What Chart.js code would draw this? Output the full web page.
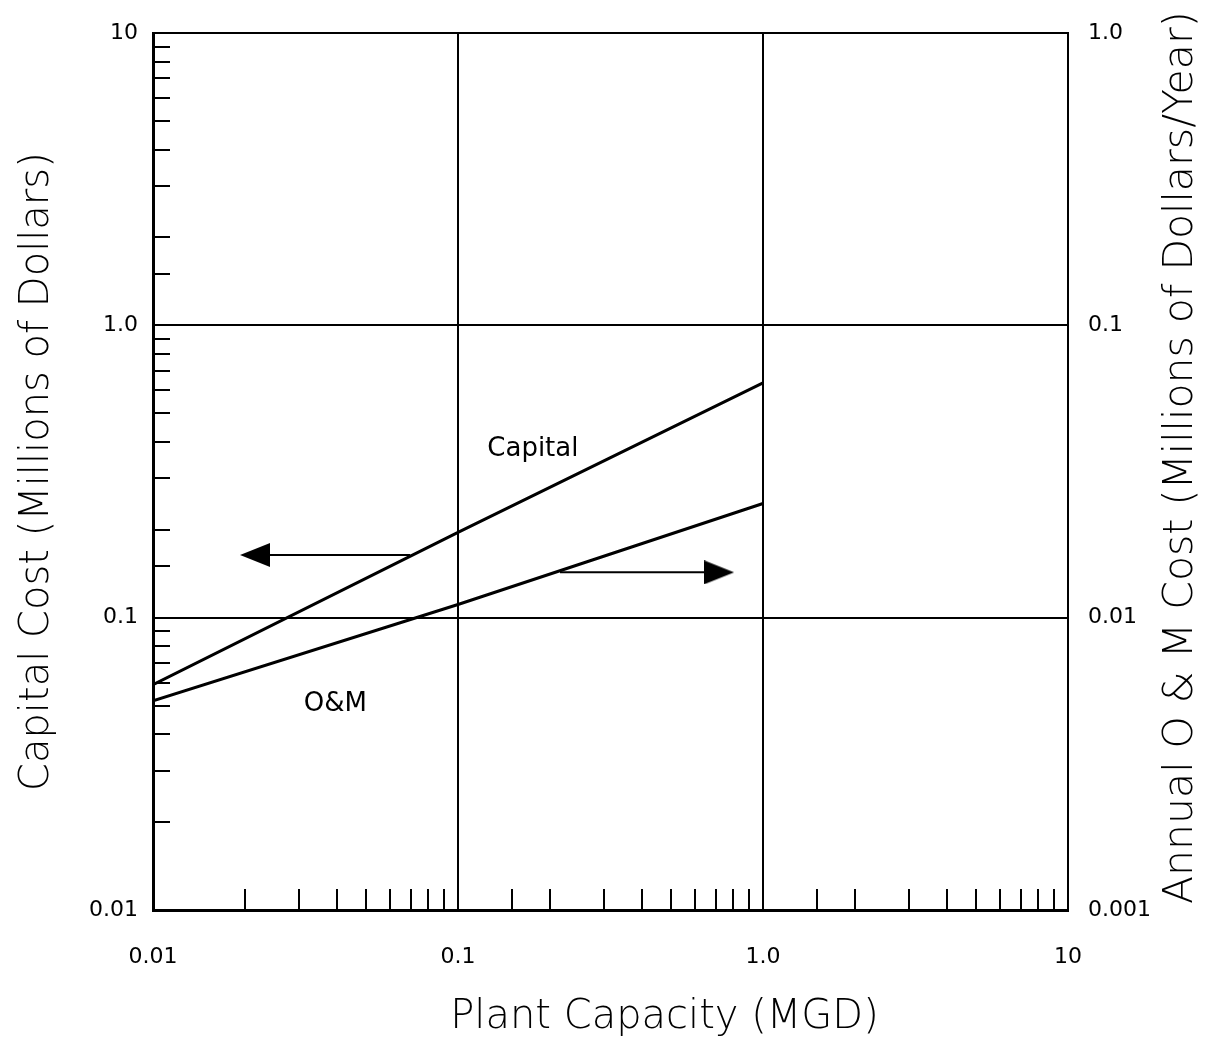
<!DOCTYPE html>
<html>
<head>
<meta charset="utf-8">
<script src="https://cdn.jsdelivr.net/npm/chart.js@4/dist/chart.umd.min.js"></script>
<style>
  html, body { margin: 0; padding: 0; background: #ffffff; }
  #wrap { width: 1205px; height: 1043px; position: relative; }
</style>
</head>
<body>
<div id="wrap"><canvas id="c" width="1205" height="1043"></canvas></div>
<script>
// ---- data ----
const capacityMGD   = [0.01, 0.1, 1.0];          // Plant capacity, MGD
const capitalCost   = [0.059, 0.196, 0.636];     // Capital cost, millions of dollars (left axis)
const omCost        = [0.0052, 0.0111, 0.0246];  // Annual O&M cost, millions of dollars/year (right axis)
const seriesLabels  = ['Capital', 'O&M'];

const xTickValues     = [0.01, 0.1, 1, 10];
const xTickLabels     = ['0.01', '0.1', '1.0', '10'];
const leftTickValues  = [0.01, 0.1, 1, 10];
const leftTickLabels  = ['0.01', '0.1', '1.0', '10'];
const rightTickValues = [0.001, 0.01, 0.1, 1];
const rightTickLabels = ['0.001', '0.01', '0.1', '1.0'];

const xTitle     = 'Plant Capacity (MGD)';
const leftTitle  = 'Capital Cost (Millions of Dollars)';
const rightTitle = 'Annual O & M Cost (Millions of Dollars/Year)';

const capitalArrowX = [0.0697, 0.0216];   // from Capital curve toward left axis
const capitalArrowY = [0.164, 0.164];     // left-axis units
const omArrowX      = [0.216, 0.718];     // from O&M curve toward right axis
const omArrowY      = [0.0143, 0.0143];   // right-axis units
const capitalLabelAt = [0.176, 0.376];    // x, left-axis y
const omLabelAt      = [0.0396, 0.0504];  // x, left-axis y

// ---- helpers ----
const FONT = "'DejaVu Sans', 'Liberation Sans', sans-serif";
function isDecade(v) { const l = Math.log10(v); return Math.abs(l - Math.round(l)) < 1e-6; }
function labelFor(v, vals, labs) {
  for (let i = 0; i < vals.length; i++) if (Math.abs(Math.log10(v) - Math.log10(vals[i])) < 1e-6) return labs[i];
  return '';
}
function makeHead(dir) {
  const c = document.createElement('canvas');
  c.width = 30; c.height = 24;
  const g = c.getContext('2d');
  g.fillStyle = '#000';
  g.beginPath();
  if (dir === 'left') { g.moveTo(0, 12); g.lineTo(30, 0); g.lineTo(30, 24); }
  else { g.moveTo(30, 12); g.lineTo(0, 0); g.lineTo(0, 24); }
  g.closePath(); g.fill();
  return c;
}
const headLeft = makeHead('left');
const headRight = makeHead('right');

Chart.defaults.font.family = FONT;
Chart.defaults.color = '#000';

const decor = {
  id: 'decor',
  afterDatasetsDraw(chart) {
    const ctx = chart.ctx, a = chart.chartArea;
    const xs = chart.scales.x, ys = chart.scales.y, y2 = chart.scales.y2;
    ctx.save();
    ctx.strokeStyle = '#000';
    ctx.lineWidth = 2;
    ctx.beginPath();
    xs.ticks.forEach(t => {
      if (isDecade(t.value)) return;
      const px = Math.round(xs.getPixelForValue(t.value));
      ctx.moveTo(px, a.bottom); ctx.lineTo(px, a.bottom - 21);
    });
    ys.ticks.forEach(t => {
      if (isDecade(t.value)) return;
      const py = Math.round(ys.getPixelForValue(t.value));
      ctx.moveTo(a.left, py); ctx.lineTo(a.left + 17, py);
    });
    ctx.stroke();
    // curve labels
    ctx.fillStyle = '#000';
    ctx.font = '26px ' + FONT;
    ctx.textAlign = 'center';
    ctx.textBaseline = 'middle';
    ctx.fillText(seriesLabels[0], xs.getPixelForValue(capitalLabelAt[0]), ys.getPixelForValue(capitalLabelAt[1]));
    ctx.fillText(seriesLabels[1], xs.getPixelForValue(omLabelAt[0]), ys.getPixelForValue(omLabelAt[1]));
    // axis titles
    ctx.font = '300 40px ' + FONT;
    ctx.fillText(xTitle, (a.left + a.right) / 2 + 54, xs.bottom - 25);
    ctx.save();
    ctx.translate(y2.right - 24, (a.top + a.bottom) / 2 - 14);
    ctx.rotate(-Math.PI / 2);
    ctx.font = '300 41px ' + FONT;
    ctx.fillText(rightTitle, 0, 0);
    ctx.restore();
    ctx.restore();
  }
};

const pts = (xa, ya) => xa.map((x, i) => ({ x: x, y: ya[i] }));

new Chart(document.getElementById('c'), {
  type: 'scatter',
  data: {
    datasets: [
      { label: seriesLabels[0], data: pts(capacityMGD, capitalCost), yAxisID: 'y',
        showLine: true, borderColor: '#000', borderWidth: 3, pointRadius: 0, tension: 0 },
      { label: seriesLabels[1], data: pts(capacityMGD, omCost), yAxisID: 'y2',
        showLine: true, borderColor: '#000', borderWidth: 3, pointRadius: 0, tension: 0 },
      { label: 'capital-arrow', data: pts(capitalArrowX, capitalArrowY), yAxisID: 'y',
        showLine: true, borderColor: '#000', borderWidth: 2,
        pointRadius: [0, 14], pointStyle: ['circle', headLeft], pointBackgroundColor: '#000', pointBorderWidth: 0 },
      { label: 'om-arrow', data: pts(omArrowX, omArrowY), yAxisID: 'y2',
        showLine: true, borderColor: '#000', borderWidth: 2,
        pointRadius: [0, 14], pointStyle: ['circle', headRight], pointBackgroundColor: '#000', pointBorderWidth: 0 }
    ]
  },
  options: {
    responsive: false,
    animation: false,
    events: [],
    layout: { padding: { top: 30, left: 0, right: 0, bottom: 0 } },
    plugins: { legend: { display: false }, tooltip: { enabled: false } },
    scales: {
      x: {
        type: 'logarithmic', position: 'bottom', min: 0.01, max: 10,
        afterFit(s) { s.height = 133; },
        border: { display: true, color: '#000', width: 3 },
        grid: { drawTicks: false, lineWidth: 2,
                color: c => (c.tick && isDecade(c.tick.value)) ? '#000' : 'rgba(0,0,0,0)' },
        ticks: { autoSkip: false, maxRotation: 0, minRotation: 0, padding: 34, color: '#000',
                 font: { size: 22 }, callback: v => labelFor(v, xTickValues, xTickLabels) },
        title: { display: false, text: xTitle }
      },
      y: {
        type: 'logarithmic', position: 'left', min: 0.01, max: 10,
        afterFit(s) { s.width = 153; },
        border: { display: true, color: '#000', width: 3 },
        grid: { drawTicks: false, lineWidth: 2,
                color: c => (c.tick && isDecade(c.tick.value)) ? '#000' : 'rgba(0,0,0,0)' },
        ticks: { autoSkip: false, padding: 15, color: '#000', font: { size: 22 },
                 callback: v => labelFor(v, leftTickValues, leftTickLabels) },
        title: { display: true, text: leftTitle, color: '#000',
                 font: { size: 40, weight: '300' }, padding: { top: 14, bottom: 0 } }
      },
      y2: {
        type: 'logarithmic', position: 'right', min: 0.001, max: 1,
        afterFit(s) { s.width = 137; },
        border: { display: true, color: '#000', width: 2 },
        grid: { drawOnChartArea: false, drawTicks: false },
        ticks: { autoSkip: false, padding: 20, color: '#000', font: { size: 22 },
                 callback: v => labelFor(v, rightTickValues, rightTickLabels) },
        title: { display: false, text: rightTitle }
      }
    }
  },
  plugins: [decor]
});
</script>
</body>
</html>
